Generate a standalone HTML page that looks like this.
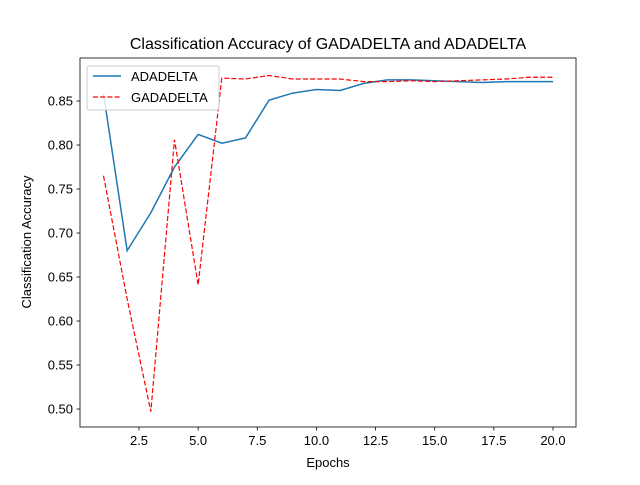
<!DOCTYPE html>
<html><head><meta charset="utf-8"><style>body{margin:0;background:#fff}svg{font-family:"Liberation Sans","DejaVu Sans",sans-serif}</style></head>
<body>
<svg id="chart" width="640" height="480">
<rect width="640" height="480" fill="#fff"/>
<text x="328" y="49" text-anchor="middle" font-size="16">Classification Accuracy of GADADELTA and ADADELTA</text>
<g id="grid"></g>
<g id="series"></g>
<rect x="80" y="58" width="496" height="369" fill="none" stroke="#000" stroke-width="0.8"/>
<text x="328" y="467" text-anchor="middle" font-size="13">Epochs</text>
<text transform="translate(31,242) rotate(-90)" text-anchor="middle" font-size="13">Classification Accuracy</text>
<g>
<rect x="87" y="66" width="132" height="44" fill="#fff" fill-opacity="0.8" stroke="#ccc" rx="2"/>
<line x1="93" y1="76" x2="121" y2="76" stroke="#1f77b4" stroke-width="1.5"/>
<text x="131" y="81" font-size="13">ADADELTA</text>
<line x1="93" y1="97" x2="121" y2="97" stroke="red" stroke-width="1.2" stroke-dasharray="5,2.2"/>
<text x="131" y="102" font-size="13">GADADELTA</text>
</g>
</svg>
<script>
const epochs=[1,2,3,4,5,6,7,8,9,10,11,12,13,14,15,16,17,18,19,20];
const adadelta=[0.858,0.680,0.723,0.775,0.812,0.802,0.808,0.851,0.859,0.863,0.862,0.870,0.874,0.874,0.873,0.872,0.871,0.872,0.872,0.872];
const gadadelta=[0.765,0.625,0.497,0.806,0.641,0.876,0.875,0.879,0.875,0.875,0.875,0.872,0.872,0.873,0.872,0.873,0.874,0.875,0.877,0.877];
const xTicks=[2.5,5,7.5,10,12.5,15,17.5,20];
const xTickLabels=["2.5","5.0","7.5","10.0","12.5","15.0","17.5","20.0"];
const yTicks=[0.5,0.55,0.6,0.65,0.7,0.75,0.8,0.85];
const yTickLabels=["0.50","0.55","0.60","0.65","0.70","0.75","0.80","0.85"];
const X=e=>139+(e-2.5)*23.657;
const Y=v=>409-(v-0.5)*880;
const NS="http://www.w3.org/2000/svg";
const g=document.getElementById('grid'),s=document.getElementById('series');
function mk(tag,attrs,parent){const el=document.createElementNS(NS,tag);for(const k in attrs)el.setAttribute(k,attrs[k]);parent.appendChild(el);return el;}
xTicks.forEach((t,i)=>{
 const l=mk('line',{x1:X(t),x2:X(t),y1:427,y2:430.5,stroke:'#000','stroke-width':0.8},g);
 
 
 const tx=mk('text',{x:X(t),y:445,'text-anchor':'middle','font-size':13},g);tx.textContent=xTickLabels[i];
 
 
});
yTicks.forEach((t,i)=>{
 const l=mk('line',{x1:76.5,x2:80,y1:Y(t),y2:Y(t),stroke:'#000','stroke-width':0.8},g);
 
 
 const tx=mk('text',{x:73,y:Y(t)+4.5,'text-anchor':'end','font-size':13},g);tx.textContent=yTickLabels[i];
 
 
});
const p1=mk('polyline',{points:epochs.map((e,i)=>X(e)+','+Y(adadelta[i])).join(' '),fill:'none',stroke:'#1f77b4','stroke-width':1.5},s);


const p2=mk('polyline',{points:epochs.map((e,i)=>X(e)+','+Y(gadadelta[i])).join(' '),fill:'none',stroke:'red','stroke-width':1.2,'stroke-dasharray':'5,2.2'},s);


</script>
</body></html>
